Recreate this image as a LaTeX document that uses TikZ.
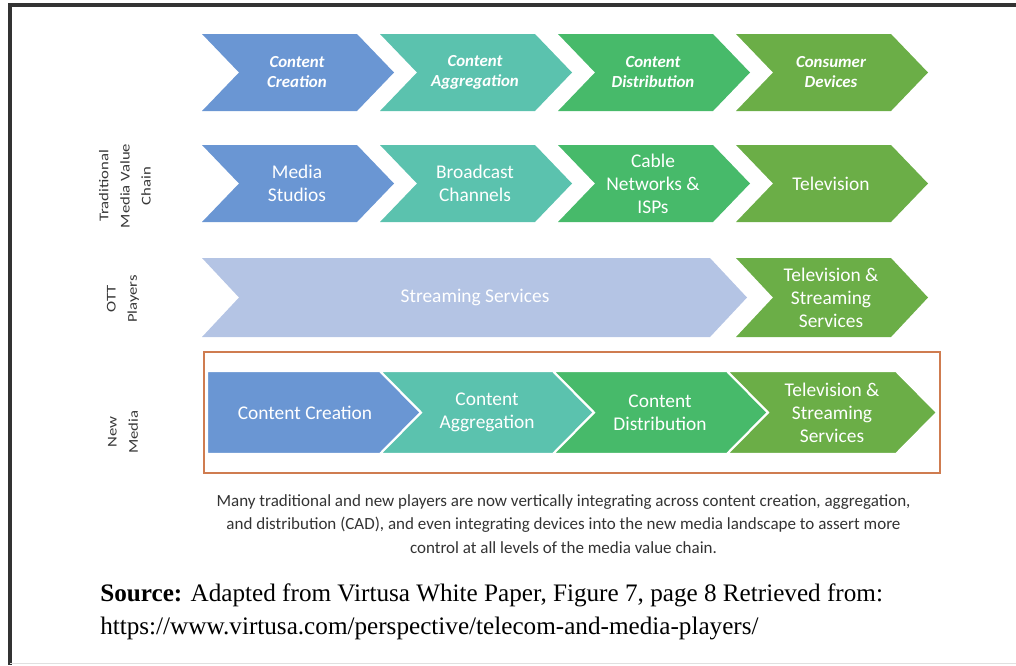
\documentclass[tikz,border=0pt]{standalone}
\usepackage{fontspec}
\setmainfont{Liberation Serif}
\newfontfamily\calibri{Carlito}

\definecolor{chevblue}{HTML}{6A96D3}
\definecolor{chevteal}{HTML}{5BC2AE}
\definecolor{chevgreen}{HTML}{47BA6A}
\definecolor{chevolive}{HTML}{6BAE47}
\definecolor{chevlav}{HTML}{B4C4E4}
\definecolor{boxorange}{HTML}{CF7C50}

% chevron: style, left x, top y, top edge length, height, point depth
\newcommand{\chevron}[6]{%
  \path[#1] (#2,#3) -- ++(#4,0) -- ++(#6,#5/2) -- ++(-#6,#5/2)
    -- ++(-#4,0) -- ++(#6,-#5/2) -- cycle;}

\begin{document}
\begin{tikzpicture}
    [x=0.025cm,y=-0.025cm,
    head/.style={text=white,align=center,font=\calibri\bfseries\itshape\fontsize{12}{14.2}\selectfont},
    body/.style={text=white,align=center,font=\calibri\fontsize{13.8}{16.4}\selectfont},
    side/.style={text=black!78,align=center,rotate=90,xscale=1.25,font=\calibri\fontsize{9.5}{15}\selectfont},
    frame/.style={line width=3,black!80}]

    \useasboundingbox (0,0) rectangle (1016,665);
    \draw [frame] (1016,5) -- (10,5) -- (10,665);
    \draw [black!12] (10,663) -- (1016,663);

    % value chain steps
    \chevron{fill=chevblue}{202}{34}{155}{77}{37}
    \chevron{fill=chevteal}{380}{34}{155}{77}{37}
    \chevron{fill=chevgreen}{558}{34}{155}{77}{37}
    \chevron{fill=chevolive}{736}{34}{155}{77}{37}
    \node (cc) [head] at (297,72) {Content\\Creation};
    \node (ca) [head] at (475,72) {Content\\Aggregation};
    \node (cd) [head] at (653,72) {Content\\Distribution};
    \node (dev) [head] at (831,72) {Consumer\\Devices};

    % traditional chain
    \chevron{fill=chevblue}{202}{145}{155}{77}{37}
    \chevron{fill=chevteal}{380}{145}{155}{77}{37}
    \chevron{fill=chevgreen}{558}{145}{155}{77}{37}
    \chevron{fill=chevolive}{736}{145}{155}{77}{37}
    \node (studios) [body] at (297,183.5) {Media\\Studios};
    \node (bcast) [body] at (475,183.5) {Broadcast\\Channels};
    \node (cable) [body] at (653,183.5) {Cable\\Networks \&\\ISPs};
    \node (tv) [body] at (831,183.5) {Television};
    \node (trad) [side] at (125,186) {Traditional\\Media Value\\Chain};

    % ott players
    \chevron{fill=chevlav}{202}{258}{508}{79}{37}
    \chevron{fill=chevolive}{736}{258}{155}{79}{37}
    \node (stream) [body] at (475,297.5) {Streaming Services};
    \node (tvs) [body] at (831,297.5) {Television \&\\Streaming\\Services};
    \node (ott) [side] at (123,299) {OTT\\Players};

    % new media
    \draw [boxorange,line width=2] (204,352) rectangle (940,473);
    \path [fill=chevblue,draw=white,line width=1.5] (207,371) -- ++(173,0) -- ++(41,41.5) -- ++(-41,41.5) -- ++(-173,0) -- cycle;
    \chevron{fill=chevteal,draw=white,line width=1.5}{380}{371}{173}{83}{41}
    \chevron{fill=chevgreen,draw=white,line width=1.5}{553}{371}{174}{83}{41}
    \chevron{fill=chevolive,draw=white,line width=1.5}{727}{371}{169}{83}{41}
    \node (ncc) [body] at (305,412.5) {Content Creation};
    \node (nca) [body] at (487,412.5) {Content\\Aggregation};
    \node (ncd) [body] at (660,412.5) {Content\\Distribution};
    \node (ntv) [body] at (832,412.5) {Television \&\\Streaming\\Services};
    \node (new) [side] at (123,432) {New\\Media};

    % notes
    \node (note) [align=center,text=black!80,font=\calibri\fontsize{12.1}{16.7}\selectfont] at (563.5,524)
      {Many traditional and new players are now vertically integrating across content creation, aggregation,\\
       and distribution (CAD), and even integrating devices into the new media landscape to assert more\\
       control at all levels of the media value chain.};
    \node (src) [anchor=west,align=left,inner sep=0,font=\fontsize{17.9}{23.5}\selectfont] at (100,611.5)
      {\textbf{Source:} Adapted from Virtusa White Paper, Figure 7, page 8 Retrieved from:\\
       https://www.virtusa.com/perspective/telecom-and-media-players/};

\end{tikzpicture}
\end{document}
